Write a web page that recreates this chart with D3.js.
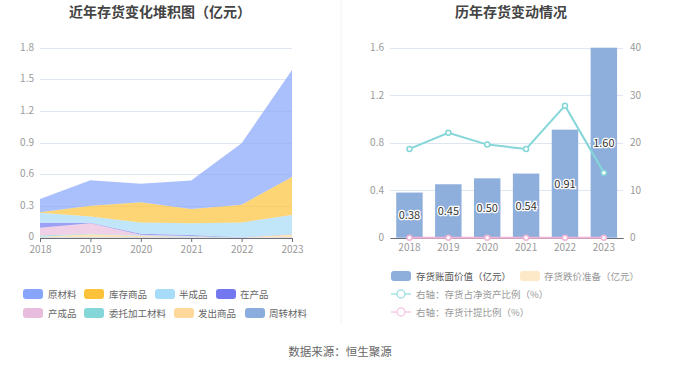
<!DOCTYPE html>
<html lang="zh">
<head>
<meta charset="UTF-8" />
<title>存货</title>
<script src="https://d3js.org/d3.v7.min.js"></script>
<style>
  body { margin: 0; background: #fff; font-family: "Noto Sans CJK SC", "Noto Sans", sans-serif; }
  svg text { font-family: "Noto Sans CJK SC", "Noto Sans", sans-serif; }
</style>
</head>
<body>
<div id="chart"></div>
<script>
  var years = ['2018', '2019', '2020', '2021', '2022', '2023'];

  // 堆积图 (亿元)
  var rawMaterial  = [0.126, 0.241, 0.177, 0.271, 0.581, 1.013]; // 原材料
  var stockGoods   = [0.003, 0.101, 0.190, 0.136, 0.168, 0.360]; // 库存商品
  var semiFinished = [0.095, 0.060, 0.107, 0.111, 0.140, 0.183]; // 半成品
  var inProcess    = [0.047, 0.005, 0.010, 0.010, 0.003, 0.002]; // 在产品
  var finished     = [0.075, 0.100, 0.008, 0.002, 0.000, 0.000]; // 产成品
  var consigned    = [0.012, 0.004, 0.005, 0.003, 0.000, 0.000]; // 委托加工材料
  var shipped      = [0.003, 0.028, 0.010, 0.005, 0.000, 0.025]; // 发出商品
  var turnover     = [0.005, 0.005, 0.005, 0.005, 0.002, 0.005]; // 周转材料

  // 历年存货变动
  var bookValue    = [0.38, 0.45, 0.50, 0.54, 0.91, 1.60];
  var impairment   = [0, 0, 0, 0, 0, 0];
  var netAssetPct  = [18.7, 22.1, 19.6, 18.7, 27.8, 13.7];
  var provisionPct = [0, 0, 0, 0, 0, 0];

  var leftTicks = [0, 0.3, 0.6, 0.9, 1.2, 1.5, 1.8];
  var rightTicksL = [0, 0.4, 0.8, 1.2, 1.6];
  var rightTicksR = [0, 10, 20, 30, 40];

  var series = [
    { name: '原材料', color: '#86a5fb', values: rawMaterial },
    { name: '库存商品', color: '#fcc33a', values: stockGoods },
    { name: '半成品', color: '#a6dcf8', values: semiFinished },
    { name: '在产品', color: '#7478ef', values: inProcess },
    { name: '产成品', color: '#e8bcdc', values: finished },
    { name: '委托加工材料', color: '#84d6d8', values: consigned },
    { name: '发出商品', color: '#fed89a', values: shipped },
    { name: '周转材料', color: '#8aadde', values: turnover }
  ];

  var w = 680, h = 367;
  var svg = d3.select('#chart').append('svg').attr('width', w).attr('height', h);

  var gridColor = '#e0e6f1', labelColor = '#999', axisColor = '#6e7079';
  var tickFont = 10, legFont = 9.5;

  // divider
  svg.append('line').attr('x1', 341).attr('x2', 341).attr('y1', 0).attr('y2', 325)
    .attr('stroke', '#f2f2f2').attr('stroke-width', 1);

  // titles
  svg.append('text').attr('x', 160).attr('y', 17).attr('text-anchor', 'middle')
    .attr('font-size', 14).attr('font-weight', 'bold').attr('fill', '#444')
    .text('近年存货变化堆积图（亿元）');
  svg.append('text').attr('x', 511).attr('y', 17).attr('text-anchor', 'middle')
    .attr('font-size', 14).attr('font-weight', 'bold').attr('fill', '#444')
    .text('历年存货变动情况');

  // ---------- left stacked area ----------
  var x1 = d3.scalePoint().domain(years).range([40, 292]);
  var y1 = d3.scaleLinear().domain([0, 1.8]).range([237.7, 47.7]);

  var left = svg.append('g');
  left.selectAll('line.grid').data(leftTicks).enter().append('line')
    .attr('x1', 40).attr('x2', 292)
    .attr('y1', function(d) { return Math.round(y1(d)) + 0.5; })
    .attr('y2', function(d) { return Math.round(y1(d)) + 0.5; })
    .attr('stroke', gridColor);
  left.selectAll('text.ytick').data(leftTicks).enter().append('text')
    .attr('x', 34).attr('y', function(d) { return y1(d) + (d === 0 ? 2 : 3); })
    .attr('text-anchor', 'end').attr('font-size', tickFont).attr('fill', labelColor)
    .text(function(d) { return d; });

  var table = years.map(function(yr, i) {
    var row = { year: yr };
    series.forEach(function(s) { row[s.name] = s.values[i]; });
    return row;
  });
  var keys = series.map(function(s) { return s.name; }).reverse();
  var stacked = d3.stack().keys(keys)(table);
  var colorOf = {};
  series.forEach(function(s) { colorOf[s.name] = s.color; });

  var area = d3.area()
    .x(function(d) { return x1(d.data.year); })
    .y0(function(d) { return y1(d[0]); })
    .y1(function(d) { return y1(d[1]); });

  left.selectAll('path.layer').data(stacked).enter().append('path')
    .attr('d', area)
    .attr('fill', function(d) { return colorOf[d.key]; })
    .attr('fill-opacity', 0.7);

  var xAxis1 = d3.axisBottom(x1).tickSize(4).tickPadding(4);
  left.append('g').attr('transform', 'translate(0,' + 238 + ')').call(xAxis1)
    .call(function(g) {
      g.select('.domain').attr('stroke', axisColor);
      g.selectAll('.tick line').attr('stroke', axisColor);
      g.selectAll('.tick text').attr('fill', labelColor).attr('font-size', tickFont);
    });

  // left legend
  var legPos = [
    [23, 294, 48], [84, 294, 109], [155, 294, 179], [216, 294, 240],
    [23, 313, 48], [84, 313, 109], [174, 313, 198], [245, 313, 269]
  ];
  var leg1 = left.selectAll('g.leg').data(series).enter().append('g');
  leg1.append('rect')
    .attr('x', function(d, i) { return legPos[i][0]; })
    .attr('y', function(d, i) { return legPos[i][1] - 5; })
    .attr('width', 20).attr('height', 10).attr('rx', 3)
    .attr('fill', function(d) { return d.color; });
  leg1.append('text')
    .attr('x', function(d, i) { return legPos[i][2]; })
    .attr('y', function(d, i) { return legPos[i][1] + 3.5; })
    .attr('font-size', legFont).attr('fill', '#666')
    .text(function(d) { return d.name; });

  // ---------- right bar + line ----------
  var x2 = d3.scaleBand().domain(years).range([390, 623.3]).paddingInner(0.32).paddingOuter(0.16);
  var xc = d3.scaleBand().domain(years).range([390, 623.3]);
  var y2 = d3.scaleLinear().domain([0, 1.6]).range([237.7, 47.7]);
  var y3 = d3.scaleLinear().domain([0, 40]).range([237.7, 47.7]);

  var right = svg.append('g');
  right.selectAll('line.grid').data(rightTicksL).enter().append('line')
    .attr('x1', 390).attr('x2', 623)
    .attr('y1', function(d) { return Math.round(y2(d)) + 0.5; })
    .attr('y2', function(d) { return Math.round(y2(d)) + 0.5; })
    .attr('stroke', gridColor);
  right.selectAll('text.yl').data(rightTicksL).enter().append('text')
    .attr('x', 384).attr('y', function(d) { return y2(d) + 3.5; })
    .attr('text-anchor', 'end').attr('font-size', tickFont).attr('fill', labelColor)
    .text(function(d) { return d; });
  right.selectAll('text.yr').data(rightTicksR).enter().append('text')
    .attr('x', 630).attr('y', function(d) { return y3(d) + 3.5; })
    .attr('text-anchor', 'start').attr('font-size', tickFont).attr('fill', labelColor)
    .text(function(d) { return d; });

  right.selectAll('rect.bar').data(bookValue).enter().append('rect')
    .attr('x', function(d, i) { return x2(years[i]); })
    .attr('y', function(d) { return y2(d); })
    .attr('width', x2.bandwidth())
    .attr('height', function(d) { return y2(0) - y2(d); })
    .attr('fill', '#8eaedc');

  right.selectAll('text.barlab').data(bookValue).enter().append('text')
    .attr('x', function(d, i) { return x2(years[i]) + x2.bandwidth() / 2; })
    .attr('y', function(d) { return (y2(d) + y2(0)) / 2 + 4; })
    .attr('text-anchor', 'middle').attr('font-size', 11)
    .attr('fill', '#333').attr('stroke', '#fff').attr('stroke-width', 2.5)
    .attr('paint-order', 'stroke')
    .text(function(d) { return d.toFixed(2); });

  var xAxis2 = d3.axisBottom(xc).tickSize(0).tickPadding(6);
  right.append('g').attr('transform', 'translate(0,' + 238 + ')').call(xAxis2)
    .call(function(g) {
      g.select('.domain').attr('stroke', axisColor);
      g.selectAll('.tick text').attr('fill', labelColor).attr('font-size', tickFont);
    });

  var cx = function(d, i) { return xc(years[i]) + xc.bandwidth() / 2; };
  var lineGen = d3.line().x(cx).y(function(d) { return y3(d); });

  right.append('path').datum(provisionPct).attr('d', lineGen)
    .attr('fill', 'none').attr('stroke', '#f0b4d6').attr('stroke-width', 2);
  right.selectAll('circle.p2').data(provisionPct).enter().append('circle')
    .attr('cx', cx).attr('cy', function(d) { return y3(d); }).attr('r', 2.5)
    .attr('fill', '#fff').attr('stroke', '#f0b4d6').attr('stroke-width', 1.5);

  right.append('path').datum(netAssetPct).attr('d', lineGen)
    .attr('fill', 'none').attr('stroke', '#84d6d8').attr('stroke-width', 2);
  right.selectAll('circle.p1').data(netAssetPct).enter().append('circle')
    .attr('cx', cx).attr('cy', function(d) { return y3(d); }).attr('r', 2.5)
    .attr('fill', '#fff').attr('stroke', '#84d6d8').attr('stroke-width', 1.5);

  // right legend
  right.append('rect').attr('x', 391).attr('y', 271).attr('width', 20).attr('height', 10)
    .attr('rx', 3).attr('fill', '#8eaedc');
  right.append('text').attr('x', 416).attr('y', 279.5).attr('font-size', legFont).attr('fill', '#555')
    .text('存货账面价值（亿元）');
  right.append('rect').attr('x', 520).attr('y', 271).attr('width', 20).attr('height', 10)
    .attr('rx', 3).attr('fill', '#fde9c8');
  right.append('text').attr('x', 544).attr('y', 279.5).attr('font-size', legFont).attr('fill', '#999')
    .text('存货跌价准备（亿元）');

  var lineLeg = [
    { y: 294, color: '#a8e4e6', text: '右轴：存货占净资产比例（%）' },
    { y: 312, color: '#f6cbe3', text: '右轴：存货计提比例（%）' }
  ];
  lineLeg.forEach(function(l) {
    right.append('line').attr('x1', 391).attr('x2', 411).attr('y1', l.y).attr('y2', l.y)
      .attr('stroke', l.color).attr('stroke-width', 1.5);
    right.append('circle').attr('cx', 401).attr('cy', l.y).attr('r', 4)
      .attr('fill', '#fff').attr('stroke', l.color).attr('stroke-width', 1.5);
    right.append('text').attr('x', 416).attr('y', l.y + 3.5).attr('font-size', legFont).attr('fill', '#999')
      .text(l.text);
  });

  // source
  svg.append('text').attr('x', 340).attr('y', 356).attr('text-anchor', 'middle')
    .attr('font-size', 11.5).attr('fill', '#666').text('数据来源：恒生聚源');
</script>
</body>
</html>
